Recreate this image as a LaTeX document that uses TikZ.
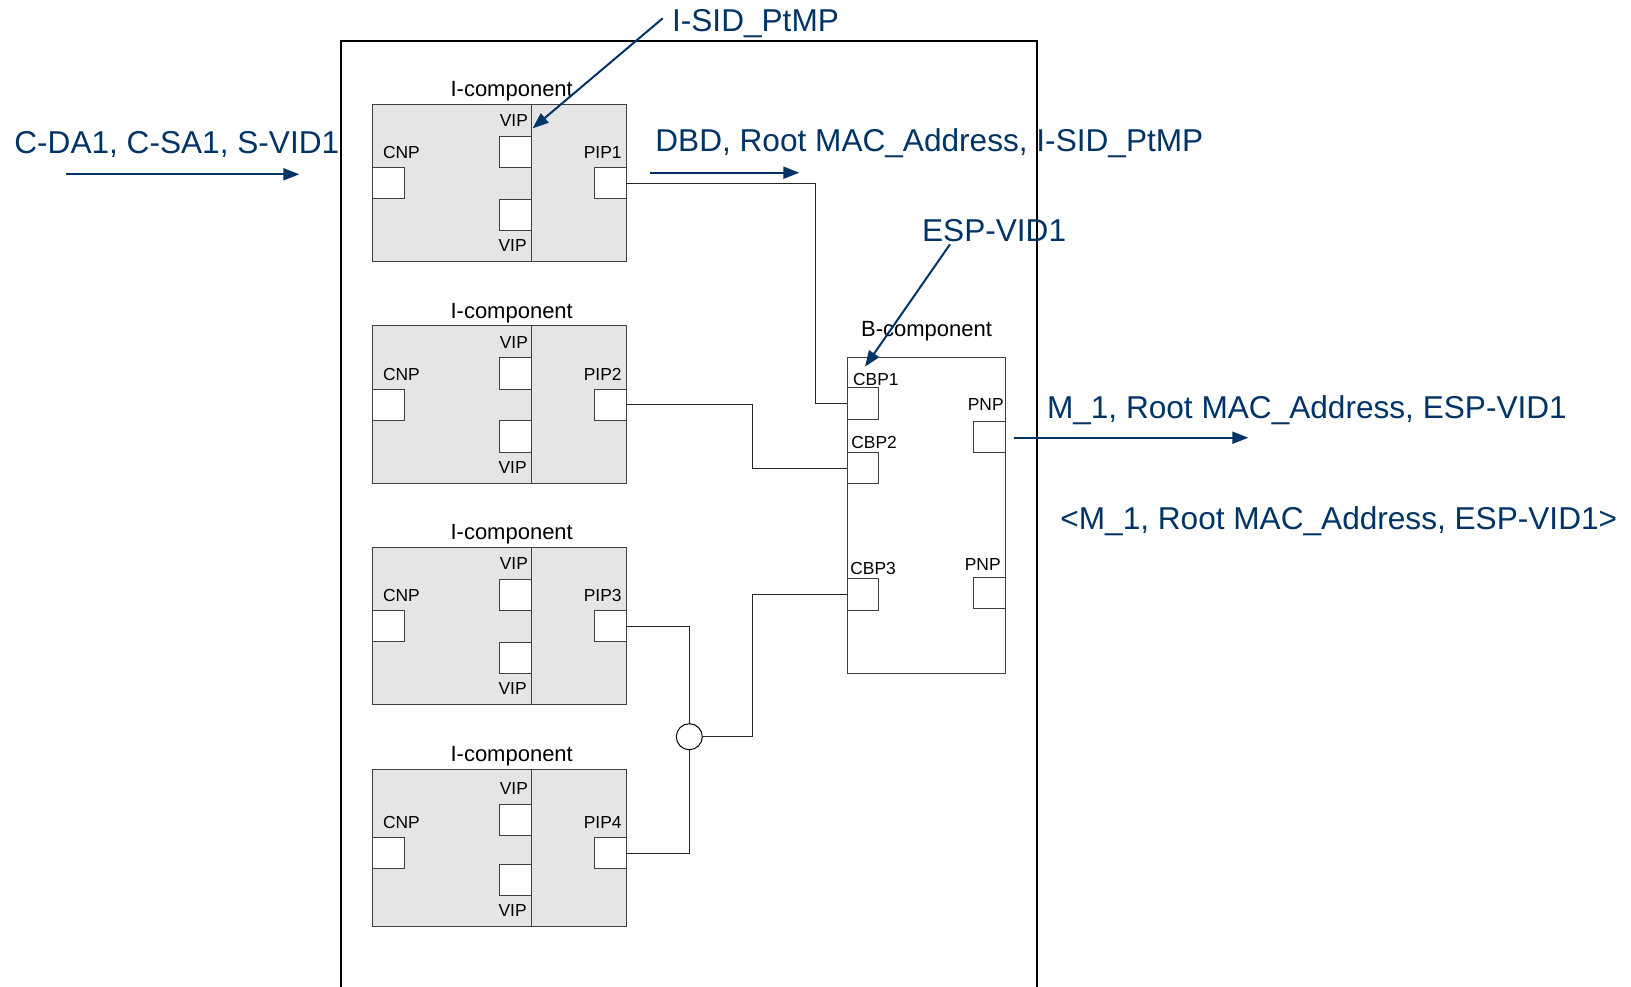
\documentclass[tikz,border=0pt]{standalone}
\usepackage{fontspec}
\setmainfont{Liberation Sans}
\usetikzlibrary{positioning}
\usetikzlibrary{calc}
\usetikzlibrary{arrows.meta}
\definecolor{navy}{RGB}{0,51,102}
\definecolor{edge}{RGB}{64,64,64}

\begin{document}
\begin{tikzpicture}[x=0.5pt, y=-0.5pt,
  icbox/.style={draw=edge, fill=black!10, line width=0.5pt, inner sep=0, outer sep=0,
    minimum width=126.65pt, minimum height=78.75pt, anchor=north west},
  bcbox/.style={draw=edge, fill=white, line width=0.5pt, inner sep=0, outer sep=0,
    minimum width=79pt, minimum height=157.8pt, anchor=north west},
  portbox/.style={draw=edge, fill=white, line width=0.5pt, inner sep=0, outer sep=0,
    minimum width=15.8pt, minimum height=15.7pt, anchor=north west},
  hub/.style={circle, draw=black, fill=white, line width=0.5pt, inner sep=0, minimum size=13pt},
  wire/.style={draw=black!85, line width=0.5pt},
  flow/.style={navy, line width=1pt, -{Triangle[length=8pt,width=6pt]}},
  small/.style={font=\fontsize{8.7}{10}\selectfont, inner sep=0},
  mid/.style={font=\fontsize{11}{13}\selectfont, inner sep=0, anchor=base},
  big/.style={font=\fontsize{15.8}{18}\selectfont, text=navy, inner sep=0, anchor=base west}]

\useasboundingbox (0,0) rectangle (1631,986);

%---------------------------------------
% Outer frame (runs off the bottom)
%---------------------------------------
\draw[line width=1pt] (341,992) -- (341,41) -- (1037,41) -- (1037,992);

%====================================================
% I-components (top y, shift of upper VIP, shift of CNP/PIP)
%====================================================
\foreach \i/\T/\dv/\dc in {1/104.3/0/0, 2/325.7/0/0.5, 3/547.3/0/0, 4/769/3/5.5} {
  \node[icbox] (ic\i) at (372.7,\T) {};
  \draw[edge, line width=0.5pt] (531.3,\T) -- (531.3,\T+157.5);
  \node[mid] (icl\i) at (511.7,\T-7.5) {I-component};

  % Ports
  \node[portbox] (cnp\i)  at (372.7,\T+63+\dc) {};
  \node[portbox] (vipa\i) at (499.5,\T+32+\dv) {};
  \node[portbox] (vipb\i) at (499.5,\T+95.2) {};
  \node[portbox] (pip\i)  at (594.4,\T+63+\dc) {};

  % Port labels
  \node[small, anchor=base east] (vipal\i) at (528.3,\T+22.4+\dv) {VIP};
  \node[small, anchor=base west] (cnpl\i)  at (382.7,\T+54+\dc) {CNP};
  \node[small, anchor=base east] (pipl\i)  at (622,\T+54+\dc) {PIP\i};
  \node[small, anchor=base east] (vipbl\i) at (527,\T+147.4) {VIP};
}

%====================================================
% B-component
%====================================================
\node[bcbox] (bc) at (847.3,357.7) {};
\node[mid] (bcl) at (926.5,336.7) {B-component};

\node[portbox] (cbp1) at (847.3,387.7) {};
\node[portbox] (cbp2) at (847.3,452.3) {};
\node[portbox] (cbp3) at (847.3,578.7) {};
\node[portbox] (pnp1) at (973.7,421) {};
\node[portbox] (pnp2) at (973.7,577.3) {};

\node[small, anchor=base west] (cbpl1) at (852.7,385) {CBP1};
\node[small, anchor=base west] (cbpl2) at (851,448.3) {CBP2};
\node[small, anchor=base west] (cbpl3) at (850,574) {CBP3};
\node[small, anchor=base east] (pnpl1) at (1004,410) {PNP};
\node[small, anchor=base east] (pnpl2) at (1001,570) {PNP};

%---------------------------------------
% Wiring
%---------------------------------------
\node[hub] (hub) at (689.3,736.7) {};

\draw[wire] (pip1.east) -- ++(189,0) |- (cbp1.west);
\draw[wire] (pip2.east) -- ++(126,0) |- (cbp2.west);
\draw[wire] (pip3.east) -| (hub.north);
\draw[wire] (pip4.east) -| (hub.south);
\draw[wire] (hub.east) -- ++(50,0) |- (cbp3.west);

%---------------------------------------
% Frame labels and flows
%---------------------------------------
\node[big] (cin) at (14,153.5) {C-DA1, C-SA1, S-VID1};
\coordinate (cin1) at (66,174.3);
\coordinate (cin2) at (299.3,174.3);
\draw[flow] (cin1) -- (cin2);

\node[big] (isid) at (671.7,31.5) {I-SID\_PtMP};
\coordinate (isid1) at (662.7,18.3);
\draw[flow] (isid1) -- ($(vipa1.north east)+(1.5,-8)$);

\node[big] (dbd) at (655,151.5) {DBD, Root MAC\_Address, I-SID\_PtMP};
\coordinate (dbd1) at (650,172.7);
\coordinate (dbd2) at (799.3,172.7);
\draw[flow] (dbd1) -- (dbd2);

\node[big] (esp) at (921.7,241.5) {ESP-VID1};
\coordinate (esp1) at (950,244.3);
\draw[flow] (esp1) -- ($(cbp1.north west)+(17.7,-21)$);

\node[big] (mout) at (1046.6,418) {M\_1, Root MAC\_Address, ESP-VID1};
\draw[flow] ($(pnp1.east)+(9,1)$) -- ++(234,0);

\node[big] (mtup) at (1060,529) {<M\_1, Root MAC\_Address, ESP-VID1>};

\end{tikzpicture}
\end{document}
